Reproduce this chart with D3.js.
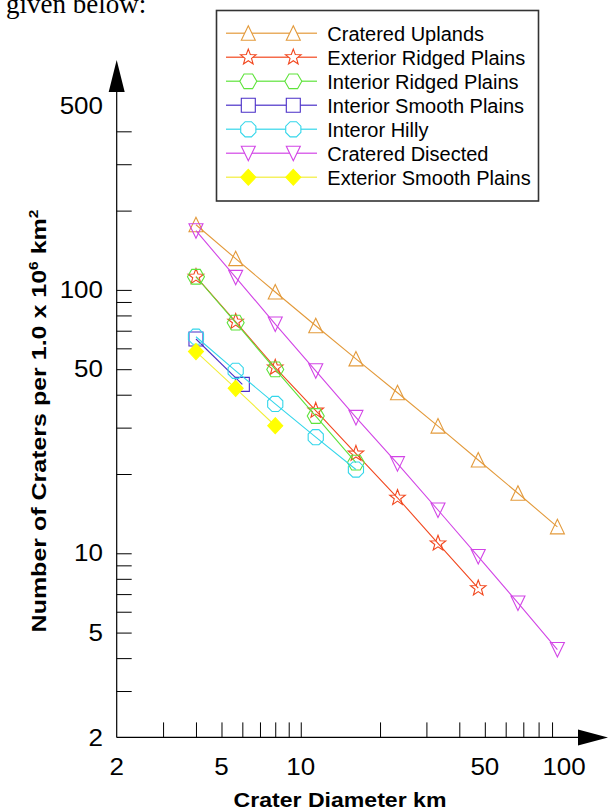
<!DOCTYPE html>
<html lang="en">
<head>
<meta charset="UTF-8" />
<title>Crater densities</title>
<script src="https://d3js.org/d3.v7.min.js"></script>
<style>
  body { margin: 0; background: #fff; }
  svg { display: block; }
  text { font-family: "Liberation Sans", Arial, sans-serif; fill: #000; }
</style>
</head>
<body>
<svg width="610" height="810"></svg>
<script>
// crater diameter bins (km)
const diameters = [4, 5.66, 8, 11.4, 16.2, 23.3, 33.2, 47.2, 66.8, 94.3];
const smoothPlainsDiameters = [4, 6];

// craters per 10^6 km^2
const crateredUplands = [176.8, 131.4, 98.2, 73.1, 54.7, 40.7, 30.4, 22.6, 16.9, 12.6];
const exteriorRidgedPlains = [112.2, 75.7, 50.7, 34.8, 23.9, 16.25, 10.9, 7.37];
const interiorRidgedPlains = [112.2, 75.1, 49.9, 33.2, 22.1];
const interiorSmoothPlains = [65.1, 43.8];
const interorHilly = [66.4, 49.3, 36.9, 27.6, 20.8];
const crateredDisected = [167.8, 111.6, 74.2, 49.3, 32.8, 21.9, 14.6, 9.72, 6.48, 4.31];
const exteriorSmoothPlains = [58.3, 42.3, 30.5];

const seriesNames = ["Cratered Uplands", "Exterior Ridged Plains", "Interior Ridged Plains",
  "Interior Smooth Plains", "Interor Hilly", "Cratered Disected", "Exterior Smooth Plains"];

const xTicks = [3, 4, 5, 6, 7, 8, 9, 10, 20, 30, 40, 50, 60, 70, 80, 90];
const yTicks = [3, 4, 5, 6, 7, 8, 9, 10, 20, 30, 40, 50, 60, 70, 80, 90, 100, 200, 300, 400];
const xLabels = [2, 5, 10, 50, 100];
const yLabels = [2, 5, 10, 50, 100, 500];

// marker outlines
function poly(n, r, rot, sx) {
  return "M" + d3.range(n).map(i => {
    const a = rot + i * 2 * Math.PI / n;
    return [(sx || 1) * r * Math.cos(a), r * Math.sin(a)];
  }).join("L") + "Z";
}
function star(ro, ri) {
  return "M" + d3.range(10).map(i => {
    const a = -Math.PI / 2 + i * Math.PI / 5, r = i % 2 ? ri : ro;
    return [r * Math.cos(a), r * Math.sin(a)];
  }).join("L") + "Z";
}
const shapes = {
  triUp: "M0,-7.5L7,7L-7,7Z",
  triDown: "M0,7.5L7,-7L-7,-7Z",
  star: star(8.2, 3.4),
  hex: poly(6, 8.5, 0),
  square: "M-7,-7H7V7H-7Z",
  oct: poly(8, 8.2, Math.PI / 8),
  diamond: "M0,-8L7.5,0L0,8L-7.5,0Z"
};

const series = [
  { name: seriesNames[0], xs: diameters, ys: crateredUplands, color: "#E39A3B", shape: "triUp" },
  { name: seriesNames[1], xs: diameters, ys: exteriorRidgedPlains, color: "#F2471E", shape: "star" },
  { name: seriesNames[2], xs: diameters, ys: interiorRidgedPlains, color: "#5EE33B", shape: "hex" },
  { name: seriesNames[3], xs: smoothPlainsDiameters, ys: interiorSmoothPlains, color: "#4A2FC8", shape: "square" },
  { name: seriesNames[4], xs: diameters, ys: interorHilly, color: "#33D6EA", shape: "oct" },
  { name: seriesNames[5], xs: diameters, ys: crateredDisected, color: "#D245E6", shape: "triDown" },
  { name: seriesNames[6], xs: diameters, ys: exteriorSmoothPlains, color: "#F2EE3A", shape: "diamond", fill: "#FFFF00" }
];

const svg = d3.select("svg");

const x = d3.scaleLog().domain([2, 100]).range([116.7, 564.1]);
const y = d3.scaleLog().domain([2, 500]).range([737.4, 105.8]);
const x0 = x(2), y0 = y(2);

// ticks (inward)
svg.append("g")
  .attr("transform", `translate(0,${y0})`)
  .call(d3.axisBottom(x).tickValues(xTicks).tickSize(-15).tickFormat(""))
  .call(g => g.select(".domain").remove());
svg.append("g")
  .attr("transform", `translate(${x0},0)`)
  .call(d3.axisLeft(y).tickValues(yTicks).tickSize(-15).tickFormat(""))
  .call(g => g.select(".domain").remove());

// axis lines with arrow heads
svg.append("line").attr("x1", x0).attr("y1", y0).attr("x2", x0).attr("y2", 90)
  .attr("stroke", "#000").attr("stroke-width", 1.2);
svg.append("path").attr("d", `M${x0},60L${x0 + 8},92L${x0 - 8},92Z`).attr("fill", "#000");
svg.append("line").attr("x1", x0).attr("y1", y0).attr("x2", 580).attr("y2", y0)
  .attr("stroke", "#000").attr("stroke-width", 1.2);
svg.append("path").attr("d", `M608,${y0}L578,${y0 - 8}L578,${y0 + 8}Z`).attr("fill", "#000");

// tick labels
svg.append("g").selectAll("text").data(xLabels).join("text")
  .attr("transform", d => `translate(${x(d)},775) scale(1.13,1)`)
  .attr("text-anchor", "middle").attr("font-size", 23)
  .text(d => d);
svg.append("g").selectAll("text").data(yLabels).join("text")
  .attr("transform", d => `translate(103,${y(d) + 8.2}) scale(1.13,1)`)
  .attr("text-anchor", "end").attr("font-size", 23)
  .text(d => d);

// axis titles
const xt = svg.append("text").attr("text-anchor", "middle")
  .attr("font-size", 21).attr("font-weight", "bold")
  .text("Crater Diameter km");
xt.attr("transform", `translate(340,806.5) scale(${213 / xt.node().getBBox().width},1)`);

const yt = svg.append("text").attr("text-anchor", "middle")
  .attr("font-size", 21).attr("font-weight", "bold");
yt.append("tspan").text("Number of Craters per 1.0 x 10");
yt.append("tspan").attr("dy", -8).attr("font-size", 13).text("6");
yt.append("tspan").attr("dy", 8).text(" km");
yt.append("tspan").attr("dy", -8).attr("font-size", 13).text("2");
yt.attr("transform", `translate(46,421) rotate(-90) scale(${423 / yt.node().getBBox().width},1)`);

// series
const line = d3.line().x(d => x(d[0])).y(d => y(d[1]));
series.forEach(s => {
  const pts = s.ys.map((v, i) => [s.xs[i], v]);
  const g = svg.append("g");
  g.append("path").attr("d", line(pts)).attr("fill", "none")
    .attr("stroke", s.color).attr("stroke-width", 1.1);
  g.selectAll("path.m").data(pts).join("path").attr("class", "m")
    .attr("d", shapes[s.shape])
    .attr("transform", d => `translate(${x(d[0])},${y(d[1])})`)
    .attr("fill", s.fill || "none")
    .attr("stroke", s.fill ? s.fill : s.color).attr("stroke-width", 1.1);
});

// legend
const lg = svg.append("g");
lg.append("rect").attr("x", 216.5).attr("y", 10.5).attr("width", 322).attr("height", 190.5)
  .attr("fill", "#fff").attr("stroke", "#333").attr("stroke-width", 1.6);
const rows = lg.selectAll("g.row").data(series).join("g").attr("class", "row")
  .attr("transform", (d, i) => `translate(0,${33.3 + 24 * i})`);
rows.append("line").attr("x1", 226).attr("x2", 317).attr("y1", 0).attr("y2", 0)
  .attr("stroke", d => d.color).attr("stroke-width", 1.6).attr("stroke-opacity", 0.8);
[248.3, 293.3].forEach(mx => {
  rows.append("path").attr("d", d => shapes[d.shape])
    .attr("transform", `translate(${mx},0)`)
    .attr("fill", d => d.fill || "#fff")
    .attr("stroke", d => d.fill ? d.fill : d.color).attr("stroke-width", 1.1);
});
rows.append("text").attr("x", 327.3).attr("y", 7.3).attr("font-size", 20)
  .text(d => d.name);

// leftover caption text from the source page
svg.append("text").attr("x", 6).attr("y", 12.7)
  .style("font-family", "'Liberation Serif', 'Times New Roman', serif")
  .attr("font-size", 27).text("given below:");
</script>
</body>
</html>
